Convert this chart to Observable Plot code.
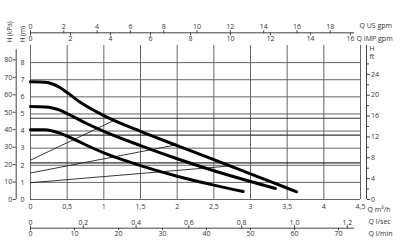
<!DOCTYPE html>
<html><head><meta charset="utf-8">
<script src="https://cdn.jsdelivr.net/npm/d3@7"></script>
<script src="https://cdn.jsdelivr.net/npm/@observablehq/plot@0.6"></script>
<style>body{margin:0;background:#fff}</style>
</head><body><div id="chart"></div>
<script>
// Pump curves (Q in m3/h, H in m)
const topQ = [0, 0.2, 0.3, 0.4, 0.5, 0.7, 1.0, 1.5, 2.0, 2.5, 3.0, 3.3, 3.63];
const topH = [6.88, 6.85, 6.75, 6.55, 6.25, 5.62, 4.9, 3.98, 3.15, 2.33, 1.5, 1.0, 0.45];
const midQ = [0, 0.2, 0.3, 0.4, 0.5, 0.75, 1.0, 1.5, 2.0, 2.5, 3.0, 3.34];
const midH = [5.43, 5.41, 5.35, 5.22, 5.02, 4.47, 3.98, 3.15, 2.38, 1.68, 1.05, 0.64];
const lowQ = [0, 0.18, 0.3, 0.4, 0.5, 0.75, 1.0, 1.5, 2.0, 2.5, 2.9];
const lowH = [4.08, 4.07, 4.0, 3.88, 3.7, 3.2, 2.72, 1.98, 1.36, 0.84, 0.47];
// proportional-pressure lines (start at Q=0, end on max curve)
const ppStartH = [2.3, 1.55, 0.98];
const ppEndQ = [1.13, 1.97, 2.75];
const ppEndH = [4.6, 3.18, 1.97];
// constant-pressure levels (m)
const cpLevels = [4.75, 3.76, 2.14];
// tick values and labels
const qTicks = [0, 0.5, 1, 1.5, 2, 2.5, 3, 3.5, 4, 4.5];
const qLabels = ["0", "0,5", "1", "1,5", "2", "2,5", "3", "3,5", "4", "4,5"];
const hTicks = [0, 1, 2, 3, 4, 5, 6, 7, 8];
const kpaTicks = [0, 10, 20, 30, 40, 50, 60, 70, 80];
const ftTicks = [0, 4, 8, 12, 16, 20, 24];
const ftMinor = [2, 6, 10, 14, 18, 22, 26];
const usTicks = [0, 2, 4, 6, 8, 10, 12, 14, 16, 18];
const impTicks = [0, 2, 4, 6, 8, 10, 12, 14, 16];
const lsTicks = [0, 0.2, 0.4, 0.6, 0.8, 1.0, 1.2];
const lsLabels = ["0", "0,2", "0,4", "0,6", "0,8", "1,0", "1,2"];
const lminTicks = [0, 10, 20, 30, 40, 50, 60, 70];

// unit conversions to m3/h and m
const US = 4.402868, IMP = 3.666154, LS = 3.6, LMIN = 0.06, KPA = 9.80665, FT = 0.3048;

const curves = [
  ...topQ.map((q, i) => ({s: "a", q, h: topH[i]})),
  ...midQ.map((q, i) => ({s: "b", q, h: midH[i]})),
  ...lowQ.map((q, i) => ({s: "c", q, h: lowH[i]}))
];
const pp = ppStartH.map((h0, i) => ({q1: 0, h1: h0, q2: ppEndQ[i], h2: ppEndH[i]}));
const usPos = usTicks.map(v => v / US);
const impPos = impTicks.map(v => v / IMP);
const lsPos = lsTicks.map(v => v * LS);
const lminPos = lminTicks.map(v => v * LMIN);
const kpaPos = kpaTicks.map(v => v / KPA);
const ftPos = ftTicks.map(v => v * FT);
const ftMinorPos = ftMinor.map(v => v * FT);
const fmt = (pos, labels) => d => labels[pos.indexOf(d)];

const tc = "#333";
const chart = Plot.plot({
  width: 400, height: 250,
  marginLeft: 30, marginRight: 40, marginTop: 45, marginBottom: 51,
  x: {domain: [0, 4.5], label: null},
  y: {domain: [0, 9], label: null},
  style: {fontFamily: "'Open Sans', sans-serif", fontSize: "7px", color: tc, background: "white"},
  marks: [
    Plot.ruleX(qTicks, {y1: 0, y2: 9, stroke: "#666", strokeWidth: 1}),
    Plot.ruleY(hTicks, {x1: 0, x2: 4.5, stroke: "#666", strokeWidth: 1}),
    Plot.ruleY(cpLevels, {x1: 0, x2: 4.5, stroke: "#333", strokeWidth: 1.1}),
    Plot.link(pp, {x1: "q1", y1: "h1", x2: "q2", y2: "h2", stroke: "#222", strokeWidth: 0.9}),
    Plot.line(curves, {x: "q", y: "h", z: "s", curve: "monotone-x", stroke: "#000", strokeWidth: 3}),
    // bottom m3/h labels
    Plot.axisX(qTicks, {anchor: "bottom", tickSize: 0, tickPadding: 5, tickFormat: fmt(qTicks, qLabels), fill: tc}),
    // l/sec and l/min axis
    Plot.ruleY([0], {x1: 0, x2: 4.42, dy: 28.7, stroke: "#444"}),
    Plot.axisX(lsPos, {anchor: "top", dy: 182.7, tickSize: 3, tickPadding: 0.5, tickFormat: fmt(lsPos, lsLabels), stroke: "#444", fill: tc}),
    Plot.axisX(lminPos, {anchor: "bottom", dy: 28.7, tickSize: 2.5, tickPadding: 0.5, tickFormat: fmt(lminPos, lminTicks.map(String)), stroke: "#444", fill: tc}),
    // top US / IMP gpm axis
    Plot.ruleY([9], {x1: 0, x2: 4.42, dy: -12.7, stroke: "#444"}),
    Plot.axisX(usPos, {anchor: "top", dy: -12.7, tickSize: 3, tickPadding: 1, tickFormat: fmt(usPos, usTicks.map(String)), stroke: "#444", fill: tc}),
    Plot.axisX(impPos, {anchor: "bottom", dy: -166.7, tickSize: 3, tickPadding: 0.5, tickFormat: fmt(impPos, impTicks.map(String)), stroke: "#444", fill: tc}),
    // left kPa axis and m labels
    Plot.ruleX([0], {y1: 0, y2: 8.75, dx: -14.3, stroke: "#444"}),
    Plot.axisY(kpaPos, {anchor: "left", dx: -14.3, tickSize: 3, tickPadding: 1, tickFormat: fmt(kpaPos, kpaTicks.map(String)), stroke: "#444", fill: tc}),
    Plot.axisY(hTicks, {anchor: "left", tickSize: 0, tickPadding: 6, fill: tc}),
    // right ft axis
    Plot.ruleX([4.5], {y1: 0, y2: 9, dx: 6, stroke: "#444"}),
    Plot.axisY(ftPos, {anchor: "right", dx: 6, tickSize: 3, tickPadding: 1.5, tickFormat: fmt(ftPos, ftTicks.map(String)), stroke: "#444", fill: tc}),
    Plot.axisY(ftMinorPos, {anchor: "right", dx: 6, tickSize: 2, tickFormat: () => "", stroke: "#444"}),
    // titles
    Plot.text(["H (kPa)"], {frameAnchor: "top-left", dx: -21, dy: -3, rotate: -90, textAnchor: "start", lineAnchor: "middle", fontSize: 6.5, fill: tc}),
    Plot.text(["H (m)"], {frameAnchor: "top-left", dx: -8, dy: -3, rotate: -90, textAnchor: "start", lineAnchor: "middle", fontSize: 6.5, fill: tc}),
    Plot.text(["H"], {frameAnchor: "top-right", dx: 9, dy: 3, textAnchor: "start", lineAnchor: "middle", fontSize: 7, fill: tc}),
    Plot.text(["ft"], {frameAnchor: "top-right", dx: 9, dy: 11.5, textAnchor: "start", lineAnchor: "middle", fontSize: 7, fill: tc}),
    Plot.text(["Q US gpm"], {frameAnchor: "top-right", dx: -1, dy: -20, textAnchor: "start", lineAnchor: "middle", fontSize: 7, fill: tc}),
    Plot.text(["Q IMP gpm"], {frameAnchor: "top-right", dx: -4, dy: -7, textAnchor: "start", lineAnchor: "middle", fontSize: 7, fill: tc}),
    Plot.text(["Q m³/h"], {frameAnchor: "bottom-right", dx: 7, dy: 10, textAnchor: "start", lineAnchor: "middle", fontSize: 7, fill: tc}),
    Plot.text(["Q l/sec"], {frameAnchor: "bottom-right", dx: 8, dy: 22.7, textAnchor: "start", lineAnchor: "middle", fontSize: 7, fill: tc}),
    Plot.text(["Q l/min"], {frameAnchor: "bottom-right", dx: 8, dy: 34.3, textAnchor: "start", lineAnchor: "middle", fontSize: 7, fill: tc})
  ]
});
document.getElementById("chart").appendChild(chart);
</script>
</body></html>
